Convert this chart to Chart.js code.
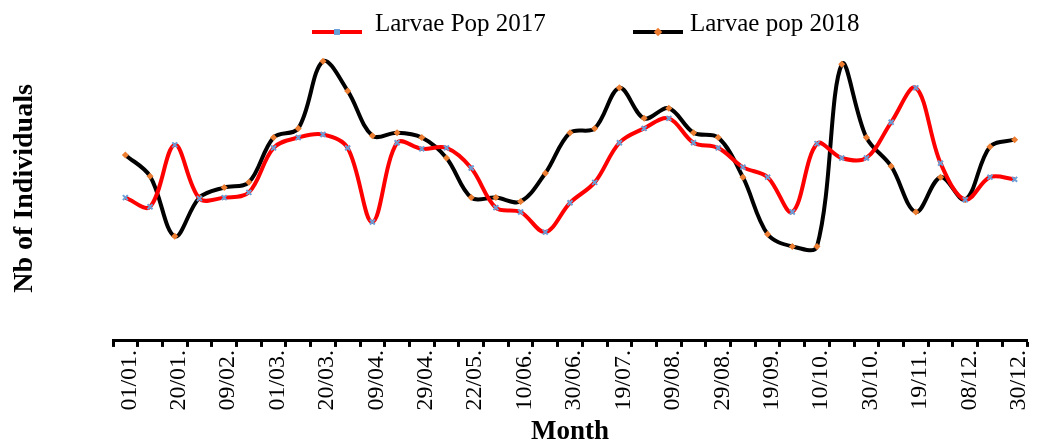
<!DOCTYPE html>
<html>
<head>
<meta charset="utf-8">
<script src="https://cdn.jsdelivr.net/npm/chart.js@4.4.1/dist/chart.umd.min.js"></script>
<style>
    body { margin: 0; background: #fff; }
    #wrap { position: relative; width: 1037px; height: 448px; }
    #legend { position: absolute; left: 0; top: 0; font-family: 'Liberation Serif', serif; font-size: 25px; }
    .item { position: absolute; top: 10px; height: 28px; }
    .swatch { position: absolute; top: 20px; width: 50px; height: 4px; }
    .mark { position: absolute; top: -1px; left: 22px; width: 6px; height: 6px; }
    .txt { position: absolute; top: 0; line-height: 25px; white-space: nowrap; }
</style>
</head>
<body>
<div id="wrap">
    <canvas id="larvaeChart"></canvas>
    <div id="legend"></div>
</div>
<script>
// sampling dates (every other one is printed on the axis)
const sampleDates = ['01/01.', '10/01.', '20/01.', '30/01.', '09/02.', '19/02.', '01/03.', '10/03.', '20/03.', '30/03.',
    '09/04.', '19/04.', '29/04.', '10/05.', '22/05.', '01/06.', '10/06.', '20/06.', '30/06.', '10/07.',
    '19/07.', '29/07.', '09/08.', '19/08.', '29/08.', '08/09.', '19/09.', '30/09.', '10/10.', '20/10.',
    '30/10.', '09/11.', '19/11.', '29/11.', '08/12.', '19/12.', '30/12.'];

const pop2017 = [47, 44, 64.3, 46.7, 47, 48.7, 63.3, 66.7, 67.7, 63.3, 39, 65, 63, 63.3, 56.7, 43.7, 42.3, 35.7, 45.3, 52,
    65, 69.7, 73, 65, 63.3, 57, 53.7, 42.3, 64.7, 60, 60, 71.7, 83, 58.3, 46.3, 53.7, 53];
const pop2018 = [61, 54, 34.3, 47, 50.3, 52, 66.7, 69.7, 91.7, 82, 67.3, 68.3, 66.7, 60, 47, 47, 45.7, 55, 68.3, 69.7,
    83, 73, 76.3, 68.3, 66.7, 53.7, 35, 31, 31, 90.7, 66.7, 57.3, 42.3, 53.7, 46.3, 63.7, 66];

const seriesNames = ['Larvae Pop 2017', 'Larvae pop 2018'];

Chart.defaults.font.family = "'Liberation Serif', 'Times New Roman', serif";
Chart.defaults.color = '#000';

const chart = new Chart(document.getElementById('larvaeChart'), {
    type: 'line',
    data: {
        labels: sampleDates,
        datasets: [
            {
                label: seriesNames[0], data: pop2017,
                borderColor: '#FF0000', borderWidth: 4, tension: 0.35,
                pointStyle: 'crossRot', pointRadius: 3.5, pointBorderWidth: 2,
                pointBorderColor: '#6A9FD8', pointBackgroundColor: '#6A9FD8'
            },
            {
                label: seriesNames[1], data: pop2018,
                borderColor: '#000000', borderWidth: 4, tension: 0.35,
                pointStyle: 'rectRot', pointRadius: 3.5, pointBorderWidth: 0,
                pointBorderColor: '#ED7D31', pointBackgroundColor: '#ED7D31'
            }
        ]
    },
    options: {
        responsive: true,
        maintainAspectRatio: false,
        animation: false,
        layout: { padding: { top: 36, left: 4, right: 10, bottom: 0 } },
        plugins: { legend: { display: false }, tooltip: { enabled: false } },
        scales: {
            x: {
                offset: true,
                grid: { offset: true, drawOnChartArea: false, drawTicks: true, tickLength: 6, tickWidth: 3, tickColor: '#000' },
                border: { display: true, width: 3, color: '#000' },
                ticks: {
                    autoSkip: false, minRotation: 90, maxRotation: 90, padding: 3, labelOffset: 4,
                    font: { size: 24 },
                    callback: (v, i) => i % 2 === 0 ? sampleDates[i] : ''
                },
                title: { display: true, text: 'Month', font: { size: 27, weight: 'bold' }, padding: { top: 2, bottom: 0 } },
                afterFit: s => { s.paddingLeft = 0; s.paddingRight = 0; }
            },
            y: {
                min: 0, max: 100,
                grid: { display: false },
                border: { display: false },
                ticks: { display: false },
                title: { display: true, text: 'Nb of Individuals', font: { size: 28, weight: 'bold' }, padding: 4 },
                afterFit: s => { s.width = 109; }
            }
        }
    }
});

// legend drawn as html next to the canvas
const legendPos = [{ line: 312, text: 375 }, { line: 633, text: 690 }];
const legendEl = document.getElementById('legend');
chart.data.datasets.forEach((ds, i) => {
    const item = document.createElement('div');
    item.className = 'item';
    item.style.left = legendPos[i].line + 'px';
    const sw = document.createElement('span');
    sw.className = 'swatch';
    sw.style.background = ds.borderColor;
    const mk = document.createElement('span');
    mk.className = 'mark';
    mk.style.background = ds.pointBackgroundColor;
    if (ds.pointStyle === 'rectRot') mk.style.transform = 'rotate(45deg)';
    sw.appendChild(mk);
    const tx = document.createElement('span');
    tx.className = 'txt';
    tx.style.left = (legendPos[i].text - legendPos[i].line) + 'px';
    tx.textContent = ds.label;
    item.appendChild(sw);
    item.appendChild(tx);
    legendEl.appendChild(item);
});
</script>
</body>
</html>
